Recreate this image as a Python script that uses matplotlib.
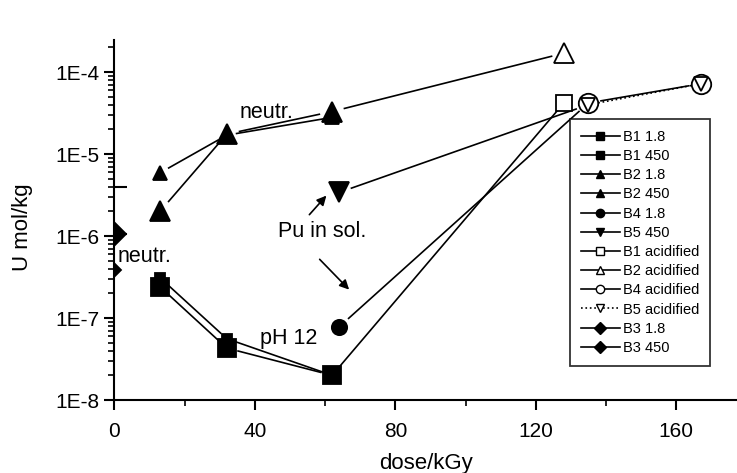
import numpy as np
import matplotlib
matplotlib.use('Agg')
import matplotlib.pyplot as plt
from matplotlib.lines import Line2D
from matplotlib.ticker import FixedLocator, LogLocator, FuncFormatter, NullFormatter

plt.rcParams['font.family'] = ['Liberation Sans', 'DejaVu Sans']

# data (dose in kGy, U in mol/kg)
b1_18_x = [13, 32, 62]
b1_18_y = [3.1e-7, 5.6e-8, 2.0e-8]
b1_450_x = [13, 32, 62]
b1_450_y = [2.4e-7, 4.3e-8, 2.0e-8]
b2_18_x = [13, 32, 62]
b2_18_y = [5.9e-6, 1.7e-5, 2.8e-5]
b2_450_x = [13, 32, 62]
b2_450_y = [2.0e-6, 1.75e-5, 3.3e-5]
b4_18_x = [64]
b4_18_y = [7.8e-8]
b5_450_x = [64, 135]
b5_450_y = [3.4e-6, 4.0e-5]
b1_ac_x = [62, 128]
b1_ac_y = [2.0e-8, 4.2e-5]
b2_ac_x = [62, 128]
b2_ac_y = [3.3e-5, 1.7e-4]
b4_ac_x = [64, 135, 167]
b4_ac_y = [7.8e-8, 4.2e-5, 7.2e-5]
b5_ac_x = [135, 167]
b5_ac_y = [4.0e-5, 7.2e-5]
b3_18_x = [0]
b3_18_y = [3.85e-7]
b3_450_x = [0]
b3_450_y = [1.05e-6]
b3_450_top = [4.0e-6]   # upper end of the error bar

series = [
    ('B1 1.8', b1_18_x, b1_18_y, 's', 7.5, 'k', '-', None),
    ('B1 450', b1_450_x, b1_450_y, 's', 12.5, 'k', '-', None),
    ('B2 1.8', b2_18_x, b2_18_y, '^', 10, 'k', '-', None),
    ('B2 450', b2_450_x, b2_450_y, '^', 14.5, 'k', '-', None),
    ('B4 1.8', b4_18_x, b4_18_y, 'o', 11, 'k', '-', None),
    ('B5 450', b5_450_x, b5_450_y, 'v', 14.5, 'k', '-', [0]),
    ('B1 acidified', b1_ac_x, b1_ac_y, 's', 11, 'w', '-', [1]),
    ('B2 acidified', b2_ac_x, b2_ac_y, '^', 14, 'w', '-', [1]),
    ('B4 acidified', b4_ac_x, b4_ac_y, 'o', 14, 'w', '-', [1, 2]),
    ('B5 acidified', b5_ac_x, b5_ac_y, 'v', 10, 'w', ':', None),
    ('B3 1.8', b3_18_x, b3_18_y, 'D', 7, 'k', '-', None),
    ('B3 450', b3_450_x, b3_450_y, 'D', 12, 'k', '-', None),
]

fig = plt.figure(figsize=(7.37, 4.73), dpi=100)
ax = fig.add_axes([0.1552, 0.1543, 0.8448, 0.7611])
ax.set_yscale('log')
ax.set_xlim(0, 177.3)
ax.set_ylim(1e-8, 2.46e-4)

px = fig.dpi / 72.0


def gapped_line(x, y, gap, ls):
    # Origin style: segments stop a few pixels short of the markers
    pts = ax.transData.transform(np.column_stack([x, y]))
    inv = ax.transData.inverted()
    for i in range(len(pts) - 1):
        p0, p1 = pts[i], pts[i + 1]
        u = (p1 - p0) / np.hypot(*(p1 - p0))
        seg = inv.transform([p0 + u * gap, p1 - u * gap])
        ax.plot(seg[:, 0], seg[:, 1], color='k', lw=1.2, ls=ls, zorder=2)


handles = []
for name, x, y, m, ms, fc, ls, every in series:
    if len(x) > 1:
        gapped_line(x, y, ms * px / 2 + 3, ls)
    mk, = ax.plot(x, y, ls='none', marker=m, ms=ms, mfc=fc, mec='k',
                  mew=1.3, markevery=every, zorder=4 if fc == 'w' else 3)
    mk.set_clip_path(ax.patch)
    handles.append(Line2D([], [], color='k', lw=1.2, ls=ls, marker=m, ms=6,
                          mfc=fc, mec='k', mew=1.0))

eb = ax.errorbar(b3_450_x, b3_450_y,
                 yerr=[[0], np.array(b3_450_top) - np.array(b3_450_y)],
                 fmt='none', ecolor='k', elinewidth=1.2, capsize=9.5,
                 capthick=1.5, zorder=3)
for c in eb.get_children():
    c.set_clip_path(ax.patch)

ax.xaxis.set_major_locator(FixedLocator([0, 40, 80, 120, 160]))
ax.xaxis.set_minor_locator(FixedLocator([20, 60, 100, 140]))
ax.yaxis.set_major_locator(LogLocator(base=10, numticks=10))
ax.yaxis.set_minor_locator(LogLocator(base=10, subs=np.arange(2, 10), numticks=20))
ax.yaxis.set_major_formatter(FuncFormatter(lambda v, p: '1E%d' % round(np.log10(v))))
ax.yaxis.set_minor_formatter(NullFormatter())

for s in ['top', 'right']:
    ax.spines[s].set_visible(False)
for s in ['left', 'bottom']:
    ax.spines[s].set_linewidth(1.5)
ax.tick_params(which='major', direction='out', length=7.5, width=1.5, labelsize=15)
ax.tick_params(which='minor', direction='out', length=4.5, width=1.2)
ax.tick_params(axis='x', pad=8)
ax.tick_params(axis='y', pad=3)

ax.set_xlabel('dose/kGy', fontsize=16, labelpad=9)
ax.set_ylabel('U mol/kg', fontsize=16)
ax.yaxis.set_label_coords(-0.131, 0.48)

ax.text(35.7, 3.2e-5, 'neutr.', fontsize=15.5, va='center')
ax.text(1.0, 5.6e-7, 'neutr.', fontsize=15.5, va='center')
ax.text(46.6, 1.13e-6, 'Pu in sol.', fontsize=15.5, va='center')
ax.text(41.5, 5.65e-8, 'pH 12', fontsize=15.5, va='center')
ax.annotate('', xy=(60.9, 3.3e-6), xytext=(55.0, 1.72e-6),
            arrowprops=dict(arrowstyle='-|>', color='k', lw=1.2, mutation_scale=14))
ax.annotate('', xy=(67.4, 2.1e-7), xytext=(57.9, 5.5e-7),
            arrowprops=dict(arrowstyle='-|>', color='k', lw=1.2, mutation_scale=14))

leg = ax.legend(handles, [s[0] for s in series], loc='upper left',
                bbox_to_anchor=(0.7318, 0.7806), fontsize=10.5, frameon=True,
                fancybox=False, edgecolor='k', handlelength=2.67,
                handletextpad=0.2, labelspacing=0.355, borderpad=0.75,
                borderaxespad=0)
leg.get_frame().set_linewidth(1.3)
leg.set_zorder(5)

plt.savefig('out.png', dpi=100)
